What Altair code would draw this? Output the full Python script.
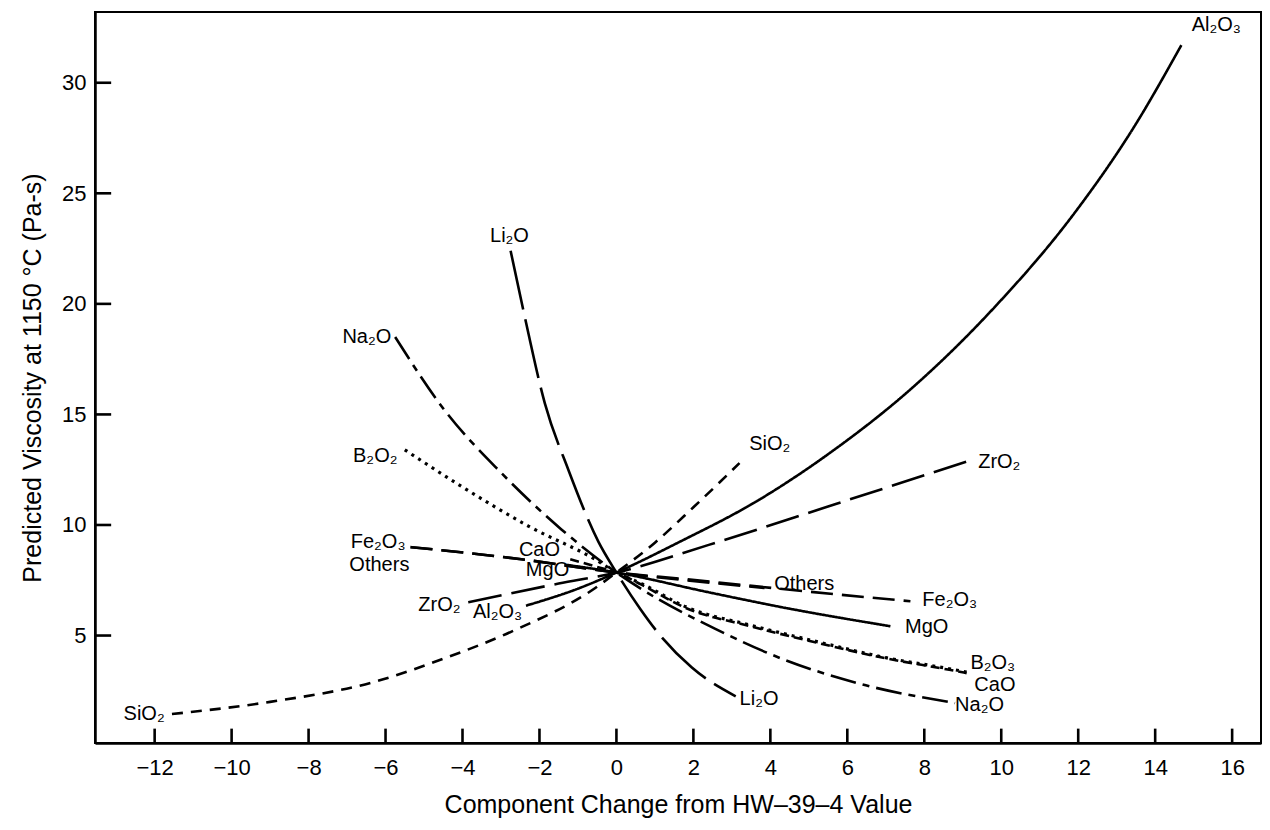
import altair as alt
import pandas as pd

# ---------------- data ----------------
al2o3_x = [-2.35, -1.0, 0.0, 1.6, 3.65, 5.5, 7.75, 9.8, 11.9, 13.45, 14.68]
al2o3_y = [6.35, 7.12, 7.85, 9.2, 11.08, 13.2, 16.3, 19.8, 24.1, 28.0, 31.7]

sio2_x = [-11.55, -9.0, -6.3, -4.5, -2.7, -0.55, 0.0, 1.0, 2.0, 3.2]
sio2_y = [1.45, 2.0, 2.9, 3.95, 5.2, 7.15, 7.85, 9.2, 10.8, 12.8]

li2o_x = [-2.75, -2.38, -1.86, -1.25, -0.47, 0.0, 0.62, 1.0, 1.96, 3.1]
li2o_y = [22.4, 19.4, 15.5, 12.5, 9.25, 7.85, 6.2, 5.3, 3.55, 2.25]

na2o_x = [-5.75, -4.47, -2.99, -1.43, 0.0, 0.65, 2.57, 4.3, 6.48, 8.8]
na2o_y = [18.5, 15.2, 12.35, 9.8, 7.85, 7.1, 5.3, 3.95, 2.75, 1.95]

b2o3_x = [-5.5, -4.03, -2.29, -0.56, 0.0, 0.65, 1.8, 3.53, 5.27, 7.0, 8.65, 9.1]
b2o3_y = [13.4, 11.75, 9.95, 8.45, 7.85, 7.35, 6.3, 5.45, 4.7, 4.0, 3.5, 3.35]

cao_x = [-1.2, -0.6, 0.0, 0.65, 1.8, 3.53, 5.27, 7.0, 8.65, 9.1]
cao_y = [8.45, 8.15, 7.85, 7.3, 6.25, 5.4, 4.65, 3.97, 3.45, 3.3]

mgo_x = [-1.3, 0.0, 2.44, 4.36, 7.12]
mgo_y = [8.2, 7.85, 6.94, 6.26, 5.42]

fe2o3_x = [-5.35, -2.47, 0.0, 1.8, 4.9, 7.64]
fe2o3_y = [9.0, 8.45, 7.85, 7.55, 7.0, 6.55]

others_x = [-5.35, -2.47, 0.0, 1.8, 3.85]
others_y = [9.0, 8.45, 7.85, 7.5, 7.15]

zro2_x = [-3.85, -1.5, 0.0, 2.4, 5.7, 9.25]
zro2_y = [6.5, 7.35, 7.85, 9.1, 10.95, 12.95]

series_names = ["Al2O3", "SiO2", "Li2O", "Na2O", "B2O3", "CaO", "MgO", "Fe2O3", "Others", "ZrO2"]
series_x = [al2o3_x, sio2_x, li2o_x, na2o_x, b2o3_x, cao_x, mgo_x, fe2o3_x, others_x, zro2_x]
series_y = [al2o3_y, sio2_y, li2o_y, na2o_y, b2o3_y, cao_y, mgo_y, fe2o3_y, others_y, zro2_y]

label_text = ["Al₂O₃", "Li₂O", "Na₂O", "B₂O₂", "Fe₂O₃", "Others", "CaO", "MgO",
              "ZrO₂", "Al₂O₃", "SiO₂", "ZrO₂", "Others", "Fe₂O₃", "MgO", "B₂O₃",
              "CaO", "Na₂O", "Li₂O", "SiO₂"]
label_x = [14.95, -2.78, -5.85, -5.69, -5.48, -5.38, -2.0, -1.79,
           -4.05, -3.09, 3.45, 9.4, 4.1, 7.95, 7.5, 9.2,
           9.3, 8.8, 3.2, -11.74]
label_y = [32.6, 23.07, 18.5, 13.1, 9.25, 8.2, 8.85, 7.95,
           6.4, 6.08, 13.67, 12.86, 7.35, 6.62, 5.4, 3.78,
           2.78, 1.88, 2.15, 1.47]
label_align = ["left", "center", "right", "right", "right", "right", "center", "center",
               "right", "center", "left", "left", "left", "left", "left", "left",
               "left", "left", "left", "right"]

x_ticks = [-12, -10, -8, -6, -4, -2, 0, 2, 4, 6, 8, 10, 12, 14, 16]
y_ticks = [5, 10, 15, 20, 25, 30]

# ---------------- styles ----------------
dash_styles = {
    "Al2O3": [1, 0],
    "SiO2": [11, 8],
    "Li2O": [60, 10],
    "Na2O": [26, 7, 7, 7],
    "B2O3": [3, 5],
    "CaO": [9, 5],
    "MgO": [1, 0],
    "Fe2O3": [22, 9],
    "Others": [22, 9],
    "ZrO2": [34, 10],
}
line_widths = {"B2O3": 3.2}

X_MIN, X_MAX = -13.55, 16.75
Y_MIN, Y_MAX = 0.14, 33.2
TICK_LEN_Y = 0.65   # inward tick length on the x axis, in y units (~14 px)
TICK_LEN_X = 0.42   # inward tick length on the y axis, in x units (~16 px)

rows = []
for name, xs, ys in zip(series_names, series_x, series_y):
    for i, (xv, yv) in enumerate(zip(xs, ys)):
        rows.append({"series": name, "x": xv, "y": yv, "order": i})
df = pd.DataFrame(rows)

labels = pd.DataFrame({"text": label_text, "x": label_x, "y": label_y, "align": label_align})

# tick marks: each one a two-point segment, drawn inward from the frame
tick_rows = []
for t in x_ticks:
    tick_rows.append({"tick": f"x{t}", "x": t, "y": Y_MIN, "order": 0})
    tick_rows.append({"tick": f"x{t}", "x": t, "y": Y_MIN + TICK_LEN_Y, "order": 1})
for t in y_ticks:
    tick_rows.append({"tick": f"y{t}", "x": X_MIN, "y": t, "order": 0})
    tick_rows.append({"tick": f"y{t}", "x": X_MIN + TICK_LEN_X, "y": t, "order": 1})
ticks_df = pd.DataFrame(tick_rows)

FONT = "Liberation Sans"

x_scale = alt.Scale(domain=[X_MIN, X_MAX], nice=False, zero=False)
y_scale = alt.Scale(domain=[Y_MIN, Y_MAX], nice=False, zero=False)

x_axis = alt.Axis(values=x_ticks, title="Component Change from HW–39–4 Value",
                  ticks=False, labelPadding=14, titlePadding=14,
                  labelFontSize=22, titleFontSize=25, grid=False)
y_axis = alt.Axis(values=y_ticks, title="Predicted Viscosity at 1150 °C (Pa-s)",
                  ticks=False, labelPadding=9, titlePadding=16,
                  labelFontSize=22, titleFontSize=25, grid=False)

xenc = alt.X("x:Q", scale=x_scale, axis=x_axis)
yenc = alt.Y("y:Q", scale=y_scale, axis=y_axis)

layers = []
for name in series_names:
    sub = df[df["series"] == name]
    layers.append(
        alt.Chart(sub).mark_line(
            color="black", strokeWidth=line_widths.get(name, 2.6),
            strokeDash=dash_styles[name], interpolate="monotone", clip=True
        ).encode(x=xenc, y=yenc, order="order:Q")
    )

layers.append(
    alt.Chart(ticks_df).mark_line(color="black", strokeWidth=2.6)
    .encode(x=xenc, y=yenc, detail="tick:N", order="order:Q")
)

for al in ["left", "right", "center"]:
    sub = labels[labels["align"] == al]
    layers.append(
        alt.Chart(sub).mark_text(
            align=al, baseline="middle", font=FONT, fontSize=20, color="black"
        ).encode(x=xenc, y=yenc, text="text:N")
    )

chart = alt.layer(*layers).properties(
    width=1166, height=731,
    autosize=alt.AutoSizeParams(type="none"),
    padding={"left": 87, "top": 4, "right": 1, "bottom": 75},
).configure_view(
    stroke="black", strokeWidth=2
).configure_axis(
    domainColor="black", domainWidth=2.5,
    labelColor="black", titleColor="black", labelFont=FONT, titleFont=FONT,
    titleFontWeight="normal"
)

chart.save("out.html", embed_options={"renderer": "svg", "actions": False})
